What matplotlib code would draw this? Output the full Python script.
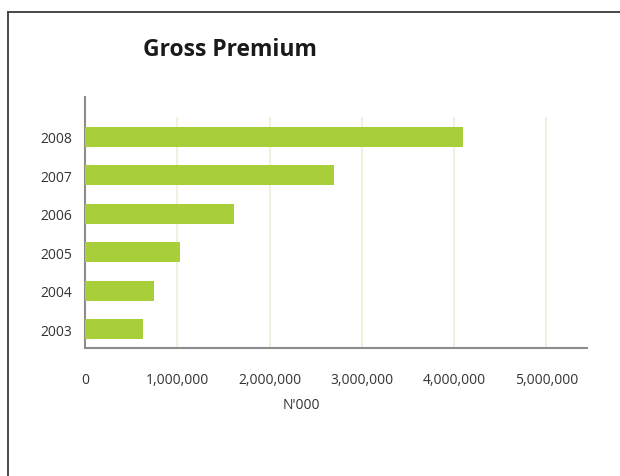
"""Gross premium by year, horizontal bar chart."""

import matplotlib

matplotlib.use("Agg")
import matplotlib.pyplot as plt
from matplotlib.lines import Line2D
from matplotlib.ticker import FuncFormatter

years = ["2003", "2004", "2005", "2006", "2007", "2008"]
gross_premium = [630000, 750000, 1030000, 1610000, 2700000, 4100000]  # N'000
x_ticks = [0, 1000000, 2000000, 3000000, 4000000, 5000000]

BAR_COLOUR = "#a8cf3a"
GRID_COLOUR = "#f1f1dc"
SPINE_COLOUR = "#8c8c8c"
TEXT_COLOUR = "#333333"

plt.rcParams["font.family"] = ["Open Sans", "DejaVu Sans"]

fig = plt.figure(figsize=(6.2, 4.77), dpi=100)
ax = fig.add_axes([85 / 620, 1 - 349 / 477, 502 / 620, 251 / 477])

# outer frame: top and left edges only
fig.add_artist(Line2D([7.5 / 620, 1], [1 - 13 / 477] * 2,
                      transform=fig.transFigure, color="#3a3a3a", lw=1.3))
fig.add_artist(Line2D([7.5 / 620] * 2, [0, 1 - 13 / 477],
                      transform=fig.transFigure, color="#3a3a3a", lw=1.3))

positions = range(len(years))
ax.barh(positions, gross_premium, height=0.52, color=BAR_COLOUR, zorder=3)

# vertical gridlines stop short of the top of the axis
for t in x_ticks[1:]:
    ax.axvline(t, ymin=0, ymax=0.916, color=GRID_COLOUR, lw=1.6, zorder=1)

ax.set_xlim(0, 5440000)
ax.set_ylim(-0.49, len(years) - 1 + 1.04)
ax.set_xticks(x_ticks)
ax.xaxis.set_major_formatter(FuncFormatter(lambda v, _: f"{int(v):,}"))
ax.set_yticks(list(positions))
ax.set_yticklabels(years)
ax.tick_params(axis="both", length=0, labelsize=10, colors=TEXT_COLOUR)
ax.tick_params(axis="x", pad=17)
ax.tick_params(axis="y", pad=9)

for side in ("top", "right"):
    ax.spines[side].set_visible(False)
for side in ("left", "bottom"):
    ax.spines[side].set_color(SPINE_COLOUR)
    ax.spines[side].set_linewidth(1.5)

ax.set_xlabel("N'000", fontsize=10, color=TEXT_COLOUR)
ax.xaxis.set_label_coords(0.432, -0.226)
ax.xaxis.label.set_va("center")

fig.text(230 / 620, 1 - 50 / 477, "Gross Premium", ha="center", va="center",
         fontsize=16.5, fontweight="bold", color="#1a1a1a")

fig.savefig("out.png", dpi=100)
